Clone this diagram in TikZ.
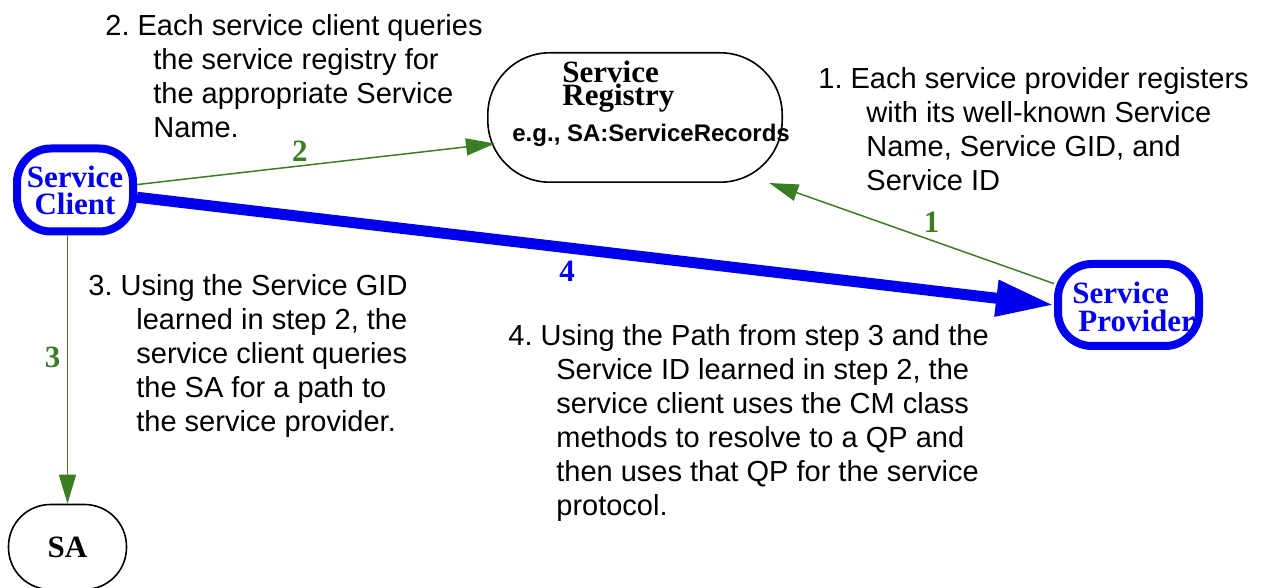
\documentclass[tikz,border=0pt]{standalone}
\usepackage{fontspec}
\setmainfont{Liberation Sans}
\newfontfamily\boxfont{Liberation Serif}
\usetikzlibrary{arrows.meta}
\definecolor{sagreen}{HTML}{3B7D23}
\definecolor{sablue}{HTML}{0000EE}
\newcommand{\noteindent}{\hspace*{24pt}}

\begin{document}
\begin{tikzpicture}[x=0.5pt,y=-0.5pt,
  svc/.style={draw=sablue,line width=4pt,rounded corners=17pt,text=sablue,inner sep=0pt,align=center,
  font=\boxfont\bfseries\fontsize{15.5}{13.5}\selectfont},
  plain/.style={draw=black,line width=0.8pt,rounded corners=28pt,inner sep=0pt,
  font=\boxfont\bfseries\fontsize{15.5}{11.5}\selectfont},
  boxname/.style={anchor=north west,inner sep=0pt,align=left,font=\boxfont\bfseries\fontsize{15.5}{11.5}\selectfont},
  note/.style={anchor=north west,inner sep=0pt,align=left,font=\frenchspacing\fontsize{14.5}{17}\selectfont},
  num/.style={inner sep=1pt,font=\boxfont\bfseries\fontsize{15.5}{15.5}\selectfont},
  reqarrow/.style={sagreen,line width=0.75pt,-{Triangle[length=14.5pt,width=8.5pt]}},
  patharrow/.style={sablue,line width=5.5pt,-{Triangle[length=29pt,width=17pt]}}]
\useasboundingbox (0,0) rectangle (1264,588);
% nodes
\node[svc,minimum width=58pt,minimum height=41.5pt] (client) at (75,190) {Service\\Client};
\node[plain,minimum width=147.2pt,minimum height=64.7pt,rounded corners=31pt] (reg) at (635,117.5) {};
\node[svc,minimum width=70.5pt,minimum height=41pt] (prov) at (1128.5,305) {};
\node[plain,minimum width=59pt,minimum height=42.5pt,rounded corners=21pt] (sa) at (67.5,547) {SA};
\node[boxname] (regname) at (562,61) {Service\\Registry};
\node[anchor=base west,inner sep=0pt,font=\bfseries\fontsize{12}{14}\selectfont] (regeg) at (512,142) {e.g., SA:ServiceRecords};
\node[boxname,text=sablue,font=\boxfont\bfseries\fontsize{15.5}{14}\selectfont] (provname) at (1072,282) {Service\\\hspace*{3pt}Provider};
% step texts
\node[note] (note1) at (818,67) {1. Each service provider registers\\\noteindent with its well-known Service\\\noteindent Name, Service GID, and\\\noteindent Service ID};
\node[note] (note2) at (105,14) {2. Each service client queries\\\noteindent the service registry for\\\noteindent the appropriate Service\\\noteindent Name.};
\node[note] (note3) at (88,274) {3. Using the Service GID\\\noteindent learned in step 2, the\\\noteindent service client queries\\\noteindent the SA for a path to\\\noteindent the service provider.};
\node[note] (note4) at (508,324) {4. Using the Path from step 3 and the\\\noteindent Service ID learned in step 2, the\\\noteindent service client uses the CM class\\\noteindent methods to resolve to a QP and\\\noteindent then uses that QP for the service\\\noteindent protocol.};
% connectors
\draw[patharrow] (client) -- (prov.west) node[num,pos=0.469,below=2.7pt] (n4) {4};
\draw[reqarrow] (prov.164) -- (reg.-26) node[num,pos=0.43,above=2.5pt] (n1) {1};
\draw[reqarrow] (client.5) -- ([xshift=4pt]reg.190) node[num,pos=0.455,above=1pt] (n2) {2};
\draw[reqarrow] (client.south -| sa.north) -- (sa.north) node[num,pos=0.456,left=2.2pt] (n3) {3};
\end{tikzpicture}
\end{document}
